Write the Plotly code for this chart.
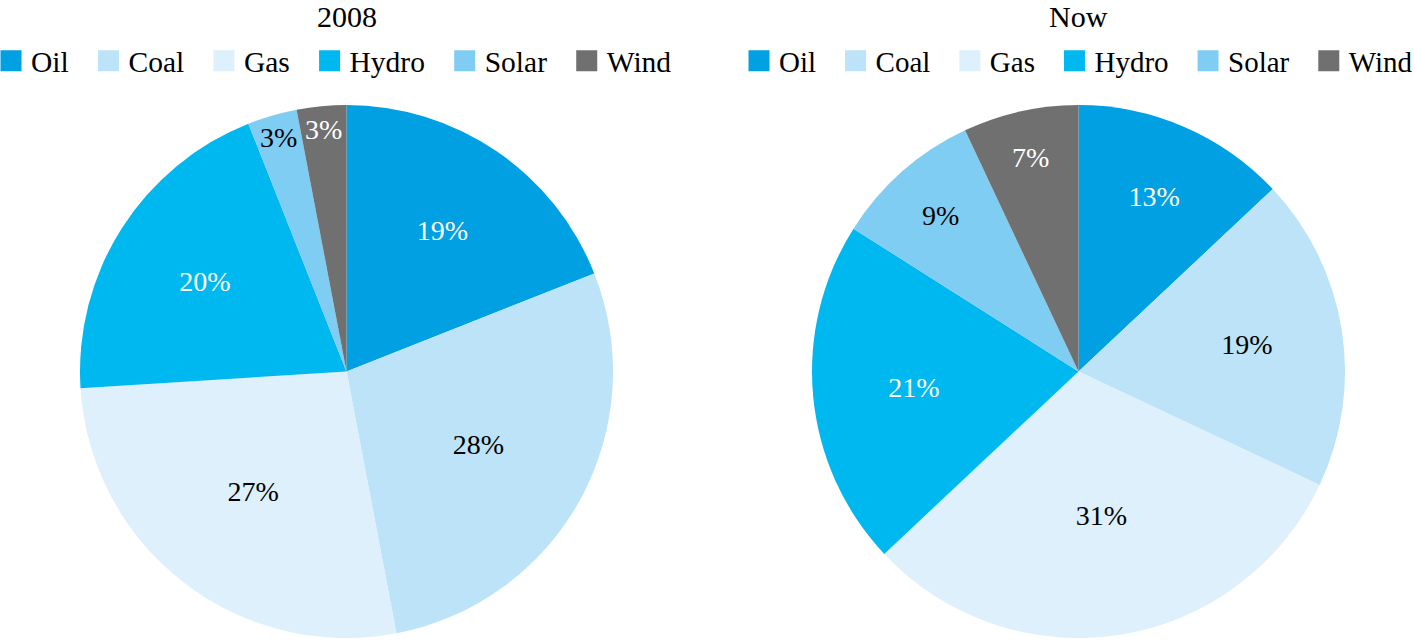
import plotly.graph_objects as go

categories = ["Oil", "Coal", "Gas", "Hydro", "Solar", "Wind"]
values_2008 = [19, 28, 27, 20, 3, 3]
values_now = [13, 19, 31, 21, 9, 7]
titles = ["2008", "Now"]

colors = ["#00A0E3", "#BCE3F8", "#DDF0FB", "#00B8F0", "#80CDF3", "#707070"]
text_colors = ["white", "black", "black", "white", "black", "white"]

FONT = "Liberation Serif, Times New Roman, serif"
W, H = 1415, 641

fig = go.Figure()
ydom = [(H - 638) / H, (H - 105) / H]
doms = [[80 / W, 613 / W], [812 / W, 1345 / W]]
legends = ["legend", "legend2"]
for i, vals in enumerate([values_2008, values_now]):
    fig.add_trace(go.Pie(
        labels=categories,
        values=vals,
        sort=False,
        direction="clockwise",
        rotation=0,
        marker=dict(colors=colors, line=dict(width=0)),
        texttemplate="%{value}%",
        textposition="inside",
        insidetextorientation="horizontal",
        textfont=dict(family=FONT, size=28, color=text_colors),
        insidetextfont=dict(family=FONT, size=28, color=text_colors),
        domain=dict(x=doms[i], y=ydom),
        hoverinfo="label+value",
        showlegend=False,
    ))
    # legend entries (one set per chart)
    for j, (cat, col) in enumerate(zip(categories, colors)):
        pad = "\u00a0\u00a0" if j < len(categories) - 1 else ""
        fig.add_trace(go.Scatter(
            x=[None], y=[None], mode="markers", name=cat + pad,
            marker=dict(symbol="square", size=16, color=col,
                        line=dict(width=5, color=col)),
            legend=legends[i], showlegend=True, hoverinfo="skip",
        ))

centers = [(doms[0][0] + doms[0][1]) / 2, (doms[1][0] + doms[1][1]) / 2]
for c, t in zip(centers, titles):
    fig.add_annotation(text=t, x=c, y=1 - 17 / H, xref="paper", yref="paper",
                       showarrow=False, xanchor="center", yanchor="middle",
                       font=dict(family=FONT, size=30, color="black"))

legend_common = dict(orientation="h", xanchor="left", yanchor="middle",
                     y=1 - 61 / H,
                     bgcolor="rgba(0,0,0,0)", traceorder="normal",
                     itemsizing="trace", itemclick=False, itemdoubleclick=False)
fig.update_layout(
    width=W, height=H,
    margin=dict(l=0, r=0, t=0, b=0, autoexpand=False),
    paper_bgcolor="white",
    plot_bgcolor="white",
    xaxis=dict(visible=False),
    yaxis=dict(visible=False),
    uniformtext=dict(minsize=28, mode="show"),
    legend=dict(x=-9 / W, font=dict(family=FONT, size=29.5, color="black"), **legend_common),
    legend2=dict(x=739 / W, font=dict(family=FONT, size=29, color="black"), **legend_common),
)

fig.write_html("out.html", config={"displayModeBar": False},
               post_script="document.body.style.margin='0px';")
